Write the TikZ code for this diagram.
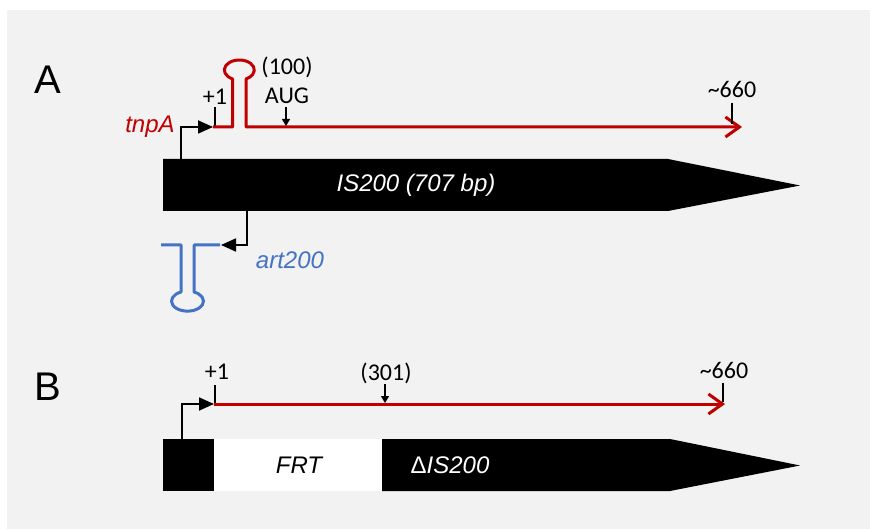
\documentclass[tikz,border=0pt]{standalone}
\usepackage{fontspec}
\usetikzlibrary{arrows.meta}
\newfontfamily\labfont{Carlito}
\newfontfamily\arifont{Liberation Sans}
\definecolor{bgc}{HTML}{F2F2F2}
\definecolor{genred}{HTML}{C00000}
\definecolor{genblue}{HTML}{4472C4}
\tikzset{
  promo/.style={draw=black, line width=1.8pt, -{Triangle[length=15pt,width=13pt]}},
  tickline/.style={draw=black, line width=1.6pt},
  smallarrow/.style={draw=black, line width=1.3pt, -{Triangle[length=7pt,width=8pt]}},
  redtx/.style={draw=genred, line width=3pt, line join=round},
  bluetx/.style={draw=genblue, line width=3pt, line join=round},
  numlab/.style={font=\labfont\fontsize{24}{26}\selectfont, inner sep=0pt},
  genelab/.style={font=\arifont\itshape\fontsize{24}{26}\selectfont, inner sep=0pt},
  panel/.style={font=\arifont\fontsize{40}{42}\selectfont, inner sep=0pt},
}
\begin{document}
\begin{tikzpicture}[x=1pt,y=-1pt]
\useasboundingbox (0,0) rectangle (870,529);
\fill[white] (0,0) rectangle (870,529);
\fill[bgc] (7,10) rectangle (870,529);

% ---------- Panel A ----------
\node[panel] (labA) at (48,80) {A};
\fill[black] (163,159) -- (668,159) -- (800,185.5) -- (668,211) -- (163,211) -- cycle;
\node[genelab, text=white] (isA) at (416,185) {IS200 (707 bp)};

\coordinate (pA) at (181,159);
\coordinate (tssA) at (213,127);
\draw[promo] (pA) |- (tssA);
\node[genelab, text=genred] (tnpA) at (150,127) {tnpA};

\coordinate (s1top) at (215,107);
\coordinate (s1bot) at (215,127);
\draw[tickline] (s1top) -- (s1bot);
\node[numlab] (plus1A) at (215,97) {+1};

\coordinate (endA) at (742,127);
\draw[redtx, -{Straight Barb[length=14pt,width=20pt,line width=3pt]}]
  (tssA) -- (232.5,127) -- (232.5,78.9)
  arc[start angle=117, end angle=423, x radius=15, y radius=10]
  -- (246,127) -- (endA);

\node[numlab] (n100) at (287,67) {(100)};
\node[numlab] (aug) at (287,95.5) {AUG};
\coordinate (augtop) at (286,107);
\coordinate (augbot) at (286,126);
\draw[smallarrow] (augtop) -- (augbot);

\node[numlab] (n660A) at (732,89) {\textasciitilde 660};
\coordinate (t660At) at (732,103);
\coordinate (t660Ab) at (732,124);
\draw[tickline] (t660At) -- (t660Ab);

% art200
\coordinate (pArt) at (247,211);
\coordinate (tssArt) at (221,245);
\draw[promo] (pArt) |- (tssArt);
\draw[bluetx]
  (161,245) -- (181,245) -- (181,292)
  arc[start angle=246, end angle=-66, x radius=16, y radius=10]
  -- (194,245) -- (220,245);
\node[genelab, text=genblue] (art) at (290,260) {art200};

% ---------- Panel B ----------
\node[panel] (labB) at (48,387) {B};
\fill[black] (163,439) rectangle (214,491);
\fill[white] (214,439) rectangle (382,491);
\fill[black] (382,439) -- (670,439) -- (800,465.5) -- (670,491) -- (382,491) -- cycle;
\node[genelab, text=black] (frt) at (299,465) {FRT};
\node[genelab, text=white] (disB) at (450,465) {{\upshape\char"0394}IS200};

\coordinate (pB) at (182,439);
\coordinate (tssB) at (214,404);
\draw[promo] (pB) |- (tssB);

\coordinate (b1top) at (215,385);
\coordinate (b1bot) at (215,404);
\draw[tickline] (b1top) -- (b1bot);
\node[numlab] (plus1B) at (217,372) {+1};

\coordinate (endB) at (725,404);
\draw[redtx, -{Straight Barb[length=14pt,width=20pt,line width=3pt]}] (tssB) -- (endB);

\node[numlab] (n301) at (386,373) {(301)};
\coordinate (a301t) at (385,384);
\coordinate (a301b) at (385,403);
\draw[smallarrow] (a301t) -- (a301b);

\node[numlab] (n660B) at (724,370) {\textasciitilde 660};
\coordinate (t660Bt) at (723,383);
\coordinate (t660Bb) at (723,402);
\draw[tickline] (t660Bt) -- (t660Bb);
\end{tikzpicture}
\end{document}
